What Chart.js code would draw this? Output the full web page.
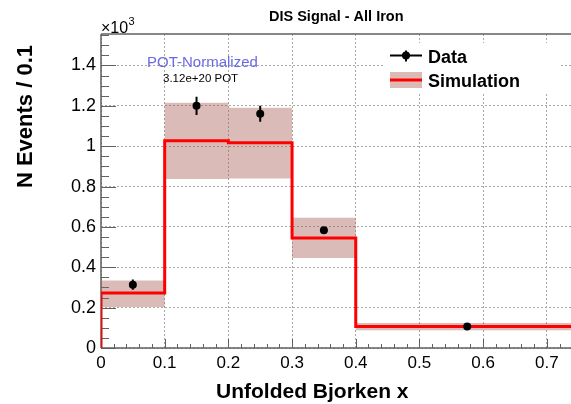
<!DOCTYPE html>
<html><head><meta charset="utf-8">
<script src="https://cdn.jsdelivr.net/npm/chart.js@4/dist/chart.umd.min.js"></script>
<style>html,body{margin:0;padding:0;background:#fff;overflow:hidden}canvas{display:block}</style>
</head><body><canvas id="c" width="571" height="404"></canvas>
<script>
// ---- data (events per bin, axis shown in units of 10^3) ----
const binEdges  = [0, 0.1, 0.2, 0.3, 0.4, 0.75];
const simValues = [272, 1027, 1017, 545, 107];
const bandLow   = [203, 837, 840, 446, 88];
const bandHigh  = [335, 1215, 1190, 645, 124];
const dataX     = [0.05, 0.15, 0.25, 0.35, 0.575];
const dataY     = [314, 1200, 1161, 584, 107];
const dataErr   = [25, 45, 40, 12, 6];
const xTicks    = [0, 0.1, 0.2, 0.3, 0.4, 0.5, 0.6, 0.7];
const xTickLabels = ['0', '0.1', '0.2', '0.3', '0.4', '0.5', '0.6', '0.7'];
const yTicks    = [0, 200, 400, 600, 800, 1000, 1200, 1400];
const yTickLabels = ['0', '0.2', '0.4', '0.6', '0.8', '1', '1.2', '1.4'];

const BAND = 'rgba(168,90,80,0.41)';
const AXIS = '#606060';
const FONT = "'Liberation Sans', Arial, Helvetica, sans-serif";

function stepPoints(vals) {
  return binEdges.map((e, i) => ({ x: e, y: vals[Math.min(i, vals.length - 1)] }));
}

const framePlugin = {
  id: 'frame',
  beforeDatasetsDraw(chart) {
    const { ctx, chartArea: a, scales: { x, y } } = chart;
    ctx.save();
    ctx.strokeStyle = AXIS;
    ctx.lineWidth = 1.5;
    ctx.beginPath();
    ctx.moveTo(a.left, a.top); ctx.lineTo(a.right, a.top);
    ctx.moveTo(a.left, a.top); ctx.lineTo(a.left, a.bottom);
    ctx.moveTo(a.left, a.bottom); ctx.lineTo(a.right, a.bottom);
    ctx.stroke();
    ctx.lineWidth = 1;
    ctx.beginPath();
    for (let v = 0; v <= y.max; v += 50) {
      const py = Math.round(y.getPixelForValue(v)) + 0.5;
      const len = (v % 200 === 0) ? 15 : 8;
      ctx.moveTo(a.left, py); ctx.lineTo(a.left + len, py);
    }
    for (let i = 0; i * 0.02 <= x.max; i++) {
      const v = i * 0.02;
      const px = Math.round(x.getPixelForValue(v)) + 0.5;
      const len = (i % 5 === 0) ? 9 : 4;
      ctx.moveTo(px, a.bottom); ctx.lineTo(px, a.bottom - len);
    }
    ctx.stroke();
    ctx.restore();
  },
  afterDatasetsDraw(chart) {
    const { ctx, scales: { x, y } } = chart;
    ctx.save();
    ctx.strokeStyle = '#000';
    ctx.lineWidth = 2;
    ctx.beginPath();
    dataX.forEach((dx, i) => {
      const px = x.getPixelForValue(dx);
      ctx.moveTo(px, y.getPixelForValue(dataY[i] - dataErr[i]));
      ctx.lineTo(px, y.getPixelForValue(dataY[i] + dataErr[i]));
    });
    ctx.stroke();
    ctx.restore();
  },
  afterDraw(chart) {
    const { ctx } = chart;
    ctx.save();
    ctx.fillStyle = '#000';
    ctx.textBaseline = 'alphabetic';
    ctx.font = `bold 14.5px ${FONT}`;
    ctx.textAlign = 'left';
    ctx.fillText('DIS Signal - All Iron', 269, 21);
    ctx.font = `16px ${FONT}`;
    ctx.fillText('\u00d710', 101, 32.5);
    ctx.font = `11px ${FONT}`;
    ctx.fillText('3', 128.5, 25);
    ctx.font = `15px ${FONT}`;
    ctx.fillStyle = '#6a6ae6';
    ctx.fillText('POT-Normalized', 147, 66.5);
    ctx.fillStyle = '#000';
    ctx.font = `11.5px ${FONT}`;
    ctx.fillText('3.12e+20 POT', 163, 82);
    ctx.font = `bold 21px ${FONT}`;
    ctx.fillText('Unfolded Bjorken x', 216, 398);
    ctx.save();
    ctx.font = `bold 22px ${FONT}`;
    ctx.translate(32, 45);
    ctx.rotate(-Math.PI / 2);
    ctx.textAlign = 'right';
    ctx.fillText('N Events / 0.1', 0, 0);
    ctx.restore();
    // legend
    ctx.fillStyle = '#fff';
    ctx.fillRect(383, 43, 177, 49);
    ctx.strokeStyle = '#000';
    ctx.lineWidth = 2;
    ctx.beginPath();
    ctx.moveTo(390, 55.5); ctx.lineTo(422, 55.5);
    ctx.moveTo(406, 50.5); ctx.lineTo(406, 61.5);
    ctx.stroke();
    ctx.fillStyle = '#000';
    ctx.beginPath(); ctx.arc(406, 55.5, 4, 0, Math.PI * 2); ctx.fill();
    ctx.fillStyle = BAND;
    ctx.fillRect(390, 72, 32, 16);
    ctx.strokeStyle = '#ff0000';
    ctx.lineWidth = 3;
    ctx.beginPath(); ctx.moveTo(390, 80); ctx.lineTo(422, 80); ctx.stroke();
    ctx.fillStyle = '#000';
    ctx.font = `bold 18px ${FONT}`;
    ctx.fillText('Data', 428, 63.3);
    ctx.fillText('Simulation', 428, 87.3);
    ctx.restore();
  }
};

new Chart(document.getElementById('c'), {
  type: 'line',
  data: {
    datasets: [
      {
        type: 'scatter', label: 'Data',
        data: dataX.map((v, i) => ({ x: v, y: dataY[i] })),
        pointRadius: 4, pointBackgroundColor: '#000', pointBorderWidth: 0, showLine: false
      },
      {
        label: 'Simulation',
        data: [{ x: 0, y: 0 }].concat(stepPoints(simValues)),
        stepped: 'before', borderColor: '#ff0000', borderWidth: 3, pointRadius: 0, fill: false
      },
      {
        label: 'band high',
        data: stepPoints(bandHigh), stepped: 'before', borderWidth: 0, pointRadius: 0,
        borderColor: 'rgba(0,0,0,0)', backgroundColor: BAND, fill: '+1'
      },
      {
        label: 'band low',
        data: stepPoints(bandLow), stepped: 'before', borderWidth: 0, pointRadius: 0,
        borderColor: 'rgba(0,0,0,0)', fill: false
      }
    ]
  },
  options: {
    responsive: false, animation: false,
    layout: { padding: { top: 34, left: 0, right: 0, bottom: 0 }, autoPadding: false },
    plugins: { legend: { display: false }, tooltip: { enabled: false }, title: { display: false } },
    scales: {
      x: {
        type: 'linear', min: 0, max: 0.738,
        afterBuildTicks: s => { s.ticks = xTicks.map(v => ({ value: v })); },
        afterFit: s => { s.height = 56; },
        ticks: {
          autoSkip: false, maxRotation: 0, padding: 5, color: '#000',
          font: { family: FONT, size: 17 },
          callback: (v) => { const i = xTicks.findIndex(t => Math.abs(t - v) < 1e-9); return i >= 0 ? xTickLabels[i] : ''; }
        },
        grid: { color: '#a8a8a8', lineWidth: 1, drawTicks: false },
        border: { display: false, dash: [2, 2] }
      },
      y: {
        type: 'linear', min: 0, max: 1556,
        afterBuildTicks: s => { s.ticks = yTicks.map(v => ({ value: v })); },
        afterFit: s => { s.width = 101; },
        ticks: {
          autoSkip: false, padding: 5, color: '#000',
          font: { family: FONT, size: 18 },
          callback: (v) => { const i = yTicks.indexOf(v); return i >= 0 ? yTickLabels[i] : ''; }
        },
        grid: { color: '#a8a8a8', lineWidth: 1, drawTicks: false },
        border: { display: false, dash: [2, 2] }
      }
    }
  },
  plugins: [framePlugin]
});
</script>
</body></html>
